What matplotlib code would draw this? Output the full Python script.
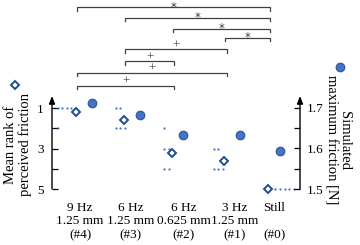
import numpy as np
import matplotlib
matplotlib.use("Agg")
import matplotlib.pyplot as plt
from matplotlib import transforms
from matplotlib.lines import Line2D

plt.rcParams['font.family'] = ['Liberation Serif', 'DejaVu Serif']

# ---------------- data ----------------
categories = ["9 Hz\n1.25 mm\n(#4)", "6 Hz\n1.25 mm\n(#3)", "6 Hz\n0.625 mm\n(#2)",
              "3 Hz\n1.25 mm\n(#1)", "Still\n\n(#0)"]
ranks_4 = [1, 1, 1, 1, 2]
ranks_3 = [1, 1, 2, 2, 2]
ranks_2 = [2, 3, 3, 4, 4]
ranks_1 = [3, 3, 4, 4, 4]
ranks_0 = [5, 5, 5, 5, 5]
individual_ranks = [ranks_4, ranks_3, ranks_2, ranks_1, ranks_0]
sim_friction = [1.712, 1.683, 1.633, 1.633, 1.594]
# significance comparisons (category index pairs) and symbols
comparisons = [(0, 4), (1, 4), (2, 4), (3, 4), (1, 3), (1, 2), (0, 3), (0, 2)]
symbols = ["*", "*", "*", "*", "+", "+", "+", "+"]
rank_ticks = [1, 3, 5]
friction_ticks = [1.5, 1.6, 1.7]

# ---------------- layout ----------------
W, H = 360, 245
label_x = [0.0, 0.98, 2.02, 3.02, 3.79]
diamond_x = [-0.08, 0.86, 1.79, 2.81, 3.66]
circle_x = [0.23, 1.17, 2.0, 3.12, 3.9]
dot_start_x = [-0.43, 0.70, 1.64, 2.61, 3.81]
dot_step = 0.088
bracket_px = [7.5, 18, 29, 37.5, 49.5, 61.5, 73, 86]

blue_dark = '#1F4E8C'
blue = '#4472C4'
blue_edge = '#2F5597'
gray = '#404040'

fig = plt.figure(figsize=(W / 100, H / 100), dpi=100)
ax = fig.add_axes([52 / W, 56 / H, 248 / W, 93 / H])
ax2 = ax.twinx()

ax.set_xlim(-0.546, 4.288)
ax.set_ylim(5, 0.407)
ax2.set_ylim(1.5, 1.7296)

# individual rank dots
for i, rk in enumerate(individual_ranks):
    rk = np.array(rk)
    for r in np.unique(rk):
        n = int((rk == r).sum())
        xs = dot_start_x[i] + dot_step * np.arange(n)
        ax.plot(xs, [r] * n, ls='none', marker='o', ms=1.6, mfc=blue, mec=blue,
                mew=0, zorder=3, clip_on=False)

means = [np.mean(r) for r in individual_ranks]
ax.plot(diamond_x, means, ls='none', marker='D', ms=4.3, mfc='white', mec=blue_dark,
        mew=1.4, zorder=4, clip_on=False)
ax2.plot(circle_x, sim_friction, ls='none', marker='o', ms=6.2, mfc=blue, mec=blue_edge,
         mew=0.8, zorder=4, clip_on=False)

# axes styling
for a in (ax, ax2):
    for s in a.spines.values():
        s.set_visible(False)
    a.patch.set_visible(False)

ax.set_xticks(label_x)
ax.set_xticklabels(categories, fontsize=9.5, linespacing=1.2)
ax.tick_params(axis='x', length=0, pad=9)

ax.set_yticks(rank_ticks)
ax.set_yticks([2, 4], minor=True)
ax.set_yticklabels([str(t) for t in rank_ticks], fontsize=9.5)
ax.tick_params(axis='y', which='both', direction='in', length=4, width=0.9, pad=6, color='black')

ax2.set_yticks(friction_ticks)
ax2.set_yticks([1.55, 1.65], minor=True)
ax2.set_yticklabels([f"{t:.1f}" for t in friction_ticks], fontsize=9.5)
ax2.tick_params(axis='y', which='both', direction='in', length=4, width=0.9, pad=5, color='black')

# arrow spines
for xf in (0, 1):
    ax.annotate('', xy=(xf, 1.0), xytext=(xf, 0.0), xycoords='axes fraction',
                textcoords='axes fraction',
                arrowprops=dict(arrowstyle='-|>,head_length=0.45,head_width=0.18',
                                lw=1.0, color='black', shrinkA=0, shrinkB=0))

# axis labels
fig.text(18 / W, 1 - 145 / H, "Mean rank of\nperceived friction", rotation=90,
         ha='center', va='center', fontsize=10.5, linespacing=1.05, multialignment='center')
fig.text(338 / W, 1 - 140 / H, "Simulated\nmaximum friction [N]", rotation=270,
         ha='center', va='center', fontsize=10.5, linespacing=1.05, multialignment='center')

# legend keys
fig.add_artist(Line2D([15 / W], [1 - 85 / H], ls='none', marker='D', ms=4.3, mfc='white',
                      mec=blue_dark, mew=1.4))
fig.add_artist(Line2D([340 / W], [1 - 67 / H], ls='none', marker='o', ms=6.2, mfc=blue,
                      mec=blue_edge, mew=0.8))

# significance brackets
tr = transforms.blended_transform_factory(ax.transData, fig.transFigure)
drop = 3.5 / H
for (a, b), sym, py in zip(comparisons, symbols, bracket_px):
    y = 1 - py / H
    x0, x1 = diamond_x[a] + 0.02, diamond_x[b] + 0.05
    ax.plot([x0, x0, x1, x1], [y - drop, y, y, y - drop], color=gray, lw=0.9,
            transform=tr, clip_on=False, solid_joinstyle='miter')
    if sym == '*':
        ax.text((x0 + x1) / 2, y - 3.2 / H, sym, transform=tr, ha='center', va='baseline',
                fontsize=8.5, color=gray, family=['DejaVu Sans'])
    else:
        ax.text((x0 + x1) / 2, y + 1.2 / H, sym, transform=tr, ha='center', va='baseline',
                fontsize=9.5, color=gray)

fig.savefig("out.png", dpi=100)
